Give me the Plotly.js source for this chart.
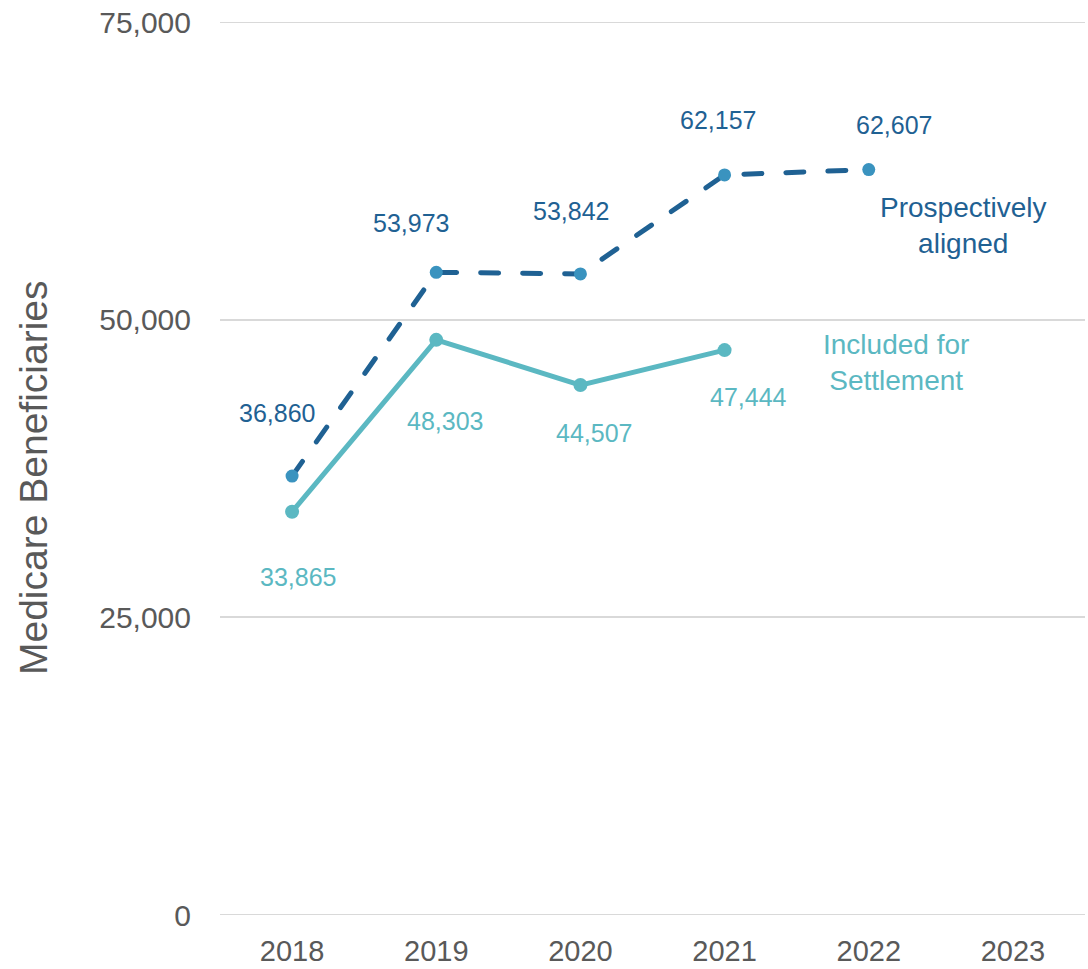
<!DOCTYPE html>
<html>
<head>
<meta charset="utf-8">
<script src="https://cdn.plot.ly/plotly-3.0.1.min.js"></script>
<style>
html,body{margin:0;padding:0;background:#fff;}
#chart{width:1088px;height:969px;}
#chart .js-line{stroke-linecap:round;}
</style>
</head>
<body>
<div id="chart"></div>
<script>
const years = ['2018', '2019', '2020', '2021', '2022', '2023'];
const prospectiveYears = ['2018', '2019', '2020', '2021', '2022'];
const prospectiveValues = [36860, 53973, 53842, 62157, 62607];
const settlementYears = ['2018', '2019', '2020', '2021'];
const settlementValues = [33865, 48303, 44507, 47444];
const yTickValues = [0, 25000, 50000, 75000];

// label offsets (pixels) relative to each point
const prospectiveOffsets = [[-15, 63], [-25, 49], [-9, 63], [-7, 55], [25, 45]];
const settlementOffsets = [[6, -65], [9, -81], [14, -48], [24, -47]];

const darkBlue = '#1F6193';
const markerBlue = '#3A93BF';
const teal = '#5BB8C2';
const grey = '#595959';
const fontMain = 'Liberation Sans, Arial, sans-serif';

const fmt = v => v.toLocaleString('en-US');

const traces = [
  {
    x: prospectiveYears, y: prospectiveValues, type: 'scatter', mode: 'lines+markers',
    line: {color: darkBlue, width: 5, dash: '18px,24px'},
    marker: {color: markerBlue, size: 13},
    hoverinfo: 'skip', showlegend: false
  },
  {
    x: settlementYears, y: settlementValues, type: 'scatter', mode: 'lines+markers',
    line: {color: teal, width: 5},
    marker: {color: teal, size: 14},
    hoverinfo: 'skip', showlegend: false
  }
];

const annotations = [];
prospectiveYears.forEach(function (yr, i) {
  annotations.push({xref: 'x', yref: 'y', x: years.indexOf(yr), y: prospectiveValues[i],
    text: fmt(prospectiveValues[i]), showarrow: false,
    xshift: prospectiveOffsets[i][0], yshift: prospectiveOffsets[i][1],
    font: {family: fontMain, size: 25, color: darkBlue}});
});
settlementYears.forEach(function (yr, i) {
  annotations.push({xref: 'x', yref: 'y', x: years.indexOf(yr), y: settlementValues[i],
    text: fmt(settlementValues[i]), showarrow: false,
    xshift: settlementOffsets[i][0], yshift: settlementOffsets[i][1],
    font: {family: fontMain, size: 25, color: teal}});
});
annotations.push({xref: 'x', yref: 'y', x: 4, y: prospectiveValues[4], text: 'Prospectively<br>aligned',
  showarrow: false, xshift: 95, yshift: -56, align: 'center',
  font: {family: fontMain, size: 28, color: darkBlue}});
annotations.push({xref: 'x', yref: 'y', x: 4, y: settlementValues[3], text: 'Included for<br>Settlement',
  showarrow: false, xshift: 27, yshift: -12, align: 'center',
  font: {family: fontMain, size: 28, color: teal}});
annotations.push({xref: 'paper', yref: 'paper', x: (33 - 220) / 865, y: (915 - 478) / 893,
  text: 'Medicare Beneficiaries', textangle: -90, showarrow: false,
  xanchor: 'center', yanchor: 'middle',
  font: {family: fontMain, size: 39, color: grey}});

const shapes = [0, 75000].map(function (v) {
  return {type: 'line', xref: 'paper', yref: 'y', x0: 0, x1: 1, y0: v, y1: v,
    line: {color: '#D9D9D9', width: 2}, layer: 'below'};
});

const layout = {
  width: 1088, height: 969,
  margin: {l: 220, r: 3, t: 22, b: 54},
  paper_bgcolor: '#fff', plot_bgcolor: '#fff',
  xaxis: {
    type: 'category', categoryorder: 'array', categoryarray: years,
    range: [-0.5, 5.5], showgrid: false, zeroline: false, showline: false,
    ticks: '', ticklabelstandoff: 16,
    tickfont: {family: fontMain, size: 29, color: grey}
  },
  yaxis: {
    range: [0, 75000], tickvals: yTickValues, ticktext: yTickValues.map(fmt),
    showgrid: true, gridcolor: '#D9D9D9', gridwidth: 2, zeroline: false, showline: false,
    ticks: '', ticklabelstandoff: 28,
    tickfont: {family: fontMain, size: 30, color: grey}
  },
  shapes: shapes,
  annotations: annotations,
  hovermode: false
};

Plotly.newPlot('chart', traces, layout, {displayModeBar: false});
</script>
</body>
</html>
